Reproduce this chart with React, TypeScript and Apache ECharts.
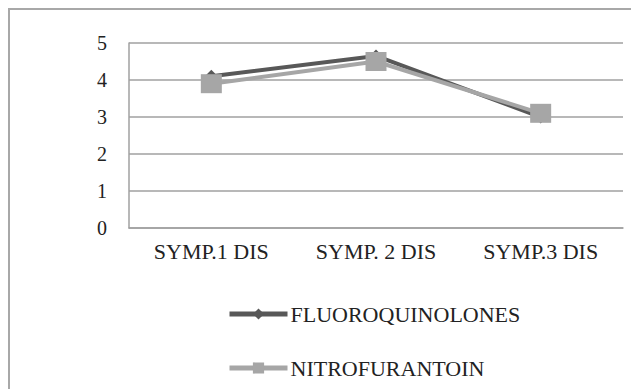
import React, { useEffect, useRef } from "react";
import * as echarts from "echarts";

const categories = ["SYMP.1 DIS", "SYMP. 2 DIS", "SYMP.3 DIS"];
const fluoroquinolones = [4.1, 4.65, 3.0];
const nitrofurantoin = [3.9, 4.5, 3.1];
const seriesNames = ["FLUOROQUINOLONES", "NITROFURANTOIN"];

const FONT = "'Liberation Serif', 'Times New Roman', serif";

export default function App() {
  const ref = useRef<HTMLDivElement>(null);
  useEffect(() => {
    const chart = echarts.init(ref.current!, null, { renderer: "svg" });
    const legendText = { color: "#222", fontFamily: FONT, fontSize: 22, lineHeight: 20, padding: [0, 0, 0, -2] };
    chart.setOption({
      animation: false,
      backgroundColor: "#fff",
      graphic: [
        {
          type: "rect",
          shape: { x: 1, y: 1, width: 700, height: 500 },
          style: { fill: "none", stroke: "#a8a8a8", lineWidth: 2 },
          silent: true,
        },
      ],
      grid: { left: 121, right: 16, top: 35, bottom: 161 },
      xAxis: {
        type: "category",
        data: categories,
        boundaryGap: true,
        axisLine: { show: true, lineStyle: { color: "#a0a0a0", width: 1.5 } },
        axisTick: { show: false },
        axisLabel: { color: "#222", fontFamily: FONT, fontSize: 22, margin: 12 },
      },
      yAxis: {
        type: "value",
        min: 0,
        max: 5,
        interval: 1,
        axisLine: { show: true, lineStyle: { color: "#a0a0a0", width: 1.5 } },
        axisTick: { show: false },
        splitLine: { show: true, lineStyle: { color: "#a0a0a0", width: 1.5 } },
        axisLabel: { color: "#222", fontFamily: FONT, fontSize: 20, margin: 22 },
      },
      legend: [
        {
          data: [seriesNames[0]],
          left: 219,
          top: 295,
          padding: 0,
          itemWidth: 58,
          itemHeight: 14,
          lineStyle: { width: 5 },
          textStyle: legendText,
        },
        {
          data: [seriesNames[1]],
          left: 219,
          top: 349,
          padding: 0,
          itemWidth: 58,
          itemHeight: 14,
          lineStyle: { width: 5 },
          textStyle: legendText,
        },
      ],
      series: [
        {
          name: seriesNames[0],
          type: "line",
          data: fluoroquinolones,
          symbol: "diamond",
          symbolSize: 13,
          color: "#585858",
          lineStyle: { width: 4, color: "#585858" },
          itemStyle: { color: "#585858" },
          z: 2,
        },
        {
          name: seriesNames[1],
          type: "line",
          data: nitrofurantoin,
          symbol: "rect",
          symbolSize: [21, 19],
          color: "#a6a6a6",
          lineStyle: { width: 4, color: "#a6a6a6" },
          itemStyle: { color: "#a6a6a6" },
          z: 3,
        },
      ],
    });
    return () => chart.dispose();
  }, []);
  return <div ref={ref} style={{ width: 631, height: 381 }} />;
}
